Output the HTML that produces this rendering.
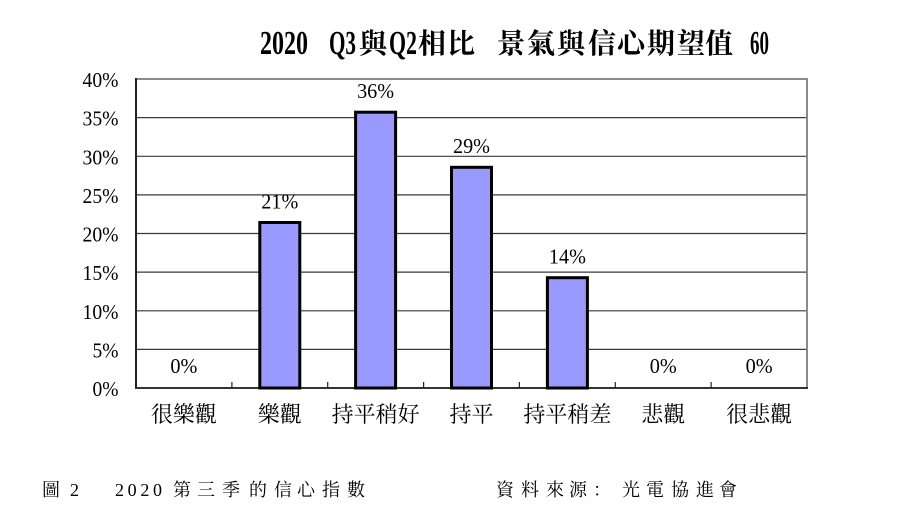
<!DOCTYPE html>
<html>
<head>
<meta charset="utf-8">
<style>
  html, body { margin:0; padding:0; background:#fff; }
  body { width:900px; height:518px; overflow:hidden; }
  svg { display:block; }
  .num { font-family:"Liberation Serif", serif; font-size:21px; fill:#000; }
  .cjk { font-family:"Liberation Serif", "Noto Serif CJK SC", "Noto Serif CJK TC", serif; fill:#000; }
  .tb { font-family:"Liberation Serif", serif; font-weight:bold; font-size:34px; fill:#000; }
  .tc { font-family:"Noto Serif CJK SC", "Noto Sans CJK TC", serif; font-weight:bold; font-size:28px; fill:#000; }
</style>
</head>
<body>
<svg width="900" height="518" viewBox="0 0 900 518" xmlns="http://www.w3.org/2000/svg">
  <rect x="0" y="0" width="900" height="518" fill="#fff"/>

  <!-- Title -->
  <text class="tb" x="260" y="54" textLength="48" lengthAdjust="spacingAndGlyphs">2020</text>
  <text class="tb" x="329" y="54" textLength="27" lengthAdjust="spacingAndGlyphs">Q3</text>
  <text class="tc" x="359" y="53">與</text>
  <text class="tb" x="389" y="54" textLength="28" lengthAdjust="spacingAndGlyphs">Q2</text>
  <text class="tc" x="418 447" y="53">相比</text>
  <text class="tc" x="497 527 557 588 617 647 677 705" y="53">景氣與信心期望值</text>
  <text class="tb" x="750" y="54" textLength="19" lengthAdjust="spacingAndGlyphs">60</text>

  <!-- Gridlines -->
  <g stroke="#3a3a3a" stroke-width="1.2">
    <line x1="136" y1="349.4" x2="807" y2="349.4"/>
    <line x1="136" y1="310.8" x2="807" y2="310.8"/>
    <line x1="136" y1="272.1" x2="807" y2="272.1"/>
    <line x1="136" y1="233.5" x2="807" y2="233.5"/>
    <line x1="136" y1="194.9" x2="807" y2="194.9"/>
    <line x1="136" y1="156.3" x2="807" y2="156.3"/>
    <line x1="136" y1="117.6" x2="807" y2="117.6"/>
  </g>

  <!-- Frame -->
  <line x1="136" y1="79" x2="807" y2="79" stroke="#8a8a8a" stroke-width="2"/>
  <line x1="807" y1="78" x2="807" y2="389" stroke="#8a8a8a" stroke-width="2"/>
  <line x1="136" y1="78" x2="136" y2="389" stroke="#222" stroke-width="2"/>
  <line x1="135" y1="388" x2="808" y2="388" stroke="#333" stroke-width="2"/>

  <!-- X ticks -->
  <g stroke="#222" stroke-width="1.2">
    <line x1="231.9" y1="388" x2="231.9" y2="382"/>
    <line x1="327.7" y1="388" x2="327.7" y2="382"/>
    <line x1="423.6" y1="388" x2="423.6" y2="382"/>
    <line x1="519.4" y1="388" x2="519.4" y2="382"/>
    <line x1="615.3" y1="388" x2="615.3" y2="382"/>
    <line x1="711.1" y1="388" x2="711.1" y2="382"/>
  </g>

  <!-- Bars -->
  <g fill="#9999ff" stroke="#000" stroke-width="3">
    <rect x="259.8" y="222.5" width="40" height="165.5"/>
    <rect x="355.6" y="112.2" width="40" height="275.8"/>
    <rect x="451.5" y="167.3" width="40" height="220.7"/>
    <rect x="547.4" y="277.7" width="40" height="110.3"/>
  </g>

  <!-- Y axis labels -->
  <g class="num" text-anchor="end">
    <text x="118.5" y="87" textLength="36" lengthAdjust="spacingAndGlyphs">40%</text>
    <text x="118.5" y="125.6" textLength="36" lengthAdjust="spacingAndGlyphs">35%</text>
    <text x="118.5" y="164.3" textLength="36" lengthAdjust="spacingAndGlyphs">30%</text>
    <text x="118.5" y="202.9" textLength="36" lengthAdjust="spacingAndGlyphs">25%</text>
    <text x="118.5" y="241.5" textLength="36" lengthAdjust="spacingAndGlyphs">20%</text>
    <text x="118.5" y="280.1" textLength="36" lengthAdjust="spacingAndGlyphs">15%</text>
    <text x="118.5" y="318.8" textLength="36" lengthAdjust="spacingAndGlyphs">10%</text>
    <text x="118.5" y="357.4" textLength="26" lengthAdjust="spacingAndGlyphs">5%</text>
    <text x="118.5" y="396" textLength="26" lengthAdjust="spacingAndGlyphs">0%</text>
  </g>

  <!-- Data labels -->
  <g class="num" text-anchor="middle">
    <text x="183.9" y="373" textLength="27" lengthAdjust="spacingAndGlyphs">0%</text>
    <text x="279.8" y="208.5" textLength="37" lengthAdjust="spacingAndGlyphs">21%</text>
    <text x="375.6" y="98" textLength="37" lengthAdjust="spacingAndGlyphs">36%</text>
    <text x="471.5" y="153" textLength="37" lengthAdjust="spacingAndGlyphs">29%</text>
    <text x="567.4" y="263.5" textLength="37" lengthAdjust="spacingAndGlyphs">14%</text>
    <text x="663.2" y="373" textLength="27" lengthAdjust="spacingAndGlyphs">0%</text>
    <text x="759.1" y="373" textLength="27" lengthAdjust="spacingAndGlyphs">0%</text>
  </g>

  <!-- Category labels -->
  <g class="cjk" font-size="22" text-anchor="middle">
    <text x="183.9" y="422">很樂觀</text>
    <text x="279.8" y="422">樂觀</text>
    <text x="375.6" y="422">持平稍好</text>
    <text x="471.5" y="422">持平</text>
    <text x="567.4" y="422">持平稍差</text>
    <text x="663.2" y="422">悲觀</text>
    <text x="759.1" y="422">很悲觀</text>
  </g>

  <!-- Caption -->
  <text class="cjk" font-size="18" x="42" y="496">圖</text>
  <text class="num" x="70" y="496" style="font-size:18px">2</text>
  <text class="num" x="115" y="496" style="font-size:18px" textLength="47" lengthAdjust="spacing">2020</text>
  <text class="cjk" font-size="18" x="173 197 222 249 274 297 322 347" y="496">第三季的信心指數</text>
  <text class="cjk" font-size="18" x="496 521 546 569 593 622 646 671 696 719" y="496">資料來源：光電協進會</text>
</svg>
</body>
</html>
